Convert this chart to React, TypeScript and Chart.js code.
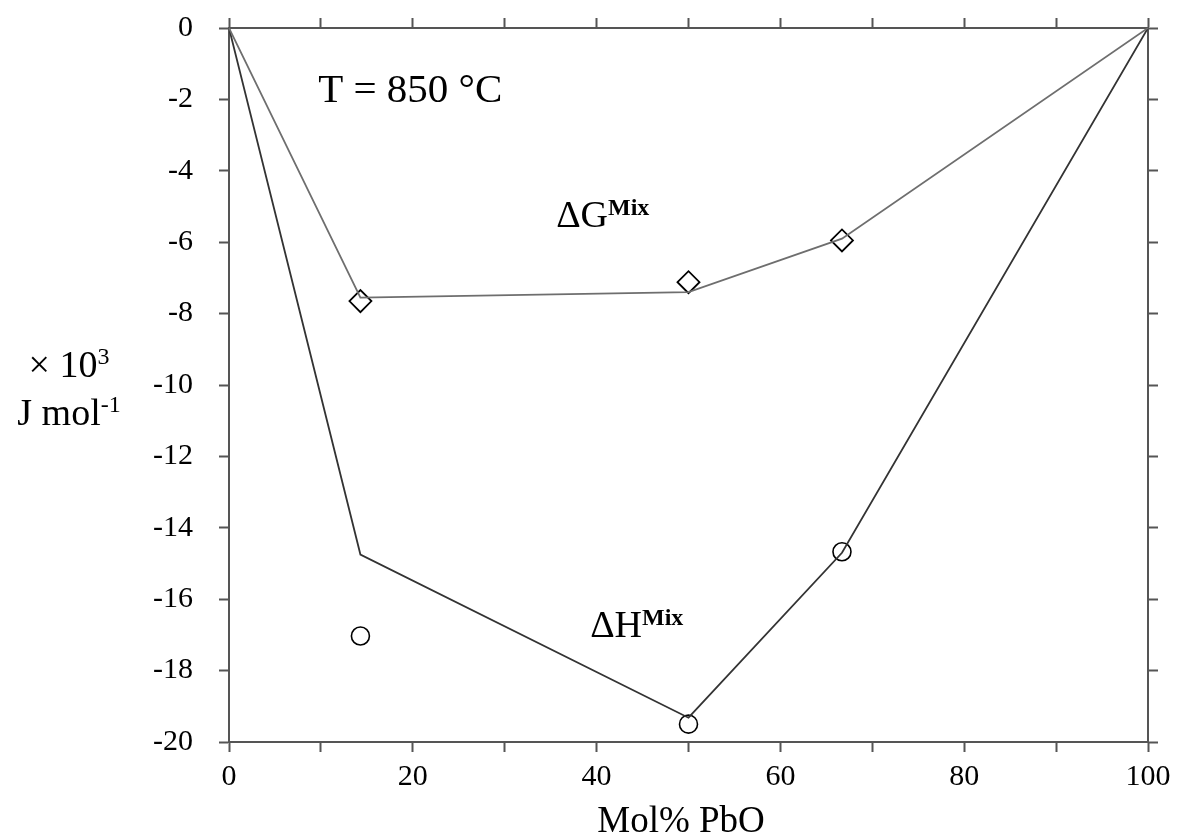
import React, { useEffect, useRef } from 'react';
import { Chart, registerables } from 'chart.js';
Chart.register(...registerables);

// ---- data ----
const molPbO = [0, 14.3, 50, 66.7, 100];
const dGMixLine = [0, -7.55, -7.4, -5.9, 0];
const dHMixLine = [0, -14.75, -19.32, -14.7, 0];
const expMolPbO = [14.3, 50, 66.7];
const dGMixExp = [-7.65, -7.12, -5.95];
const dHMixExp = [-17.03, -19.5, -14.67];
const xTickLabels = [0, 20, 40, 60, 80, 100];
const yTickValues = [0, -2, -4, -6, -8, -10, -12, -14, -16, -18, -20];

const SERIF = "'Liberation Serif', 'Times New Roman', serif";
const AXIS = '#555555';

type Part = { t: string; font: string; dy: number };

function drawParts(ctx: CanvasRenderingContext2D, parts: Part[], x: number, y: number, align: 'left' | 'center') {
  let total = 0;
  for (const p of parts) {
    ctx.font = p.font;
    total += ctx.measureText(p.t).width;
  }
  let cx = align === 'center' ? x - total / 2 : x;
  ctx.textAlign = 'left';
  ctx.textBaseline = 'alphabetic';
  ctx.fillStyle = '#000';
  for (const p of parts) {
    ctx.font = p.font;
    ctx.fillText(p.t, cx, y + p.dy);
    cx += ctx.measureText(p.t).width;
  }
}

const textPlugin = {
  id: 'texts',
  afterDraw(chart: any) {
    const ctx = chart.ctx as CanvasRenderingContext2D;
    const xs = chart.scales.x;
    const ys = chart.scales.y;
    ctx.save();
    // y-axis title
    drawParts(ctx, [
      { t: '\u00D7 10', font: `38px ${SERIF}`, dy: 0 },
      { t: '3', font: `24px ${SERIF}`, dy: -13 },
    ], 69, 377, 'center');
    drawParts(ctx, [
      { t: 'J mol', font: `38px ${SERIF}`, dy: 0 },
      { t: '-1', font: `24px ${SERIF}`, dy: -13 },
    ], 69, 425, 'center');
    // x-axis title
    drawParts(ctx, [{ t: 'Mol% PbO', font: `37px ${SERIF}`, dy: 0 }], 681, 832, 'center');
    // annotations
    drawParts(ctx, [{ t: 'T = 850 \u00B0C', font: `41px ${SERIF}`, dy: 0 }],
      xs.getPixelForValue(9.7), ys.getPixelForValue(-2.08), 'left');
    drawParts(ctx, [
      { t: '\u0394G', font: `38px ${SERIF}`, dy: 0 },
      { t: 'Mix', font: `bold 24px ${SERIF}`, dy: -12 },
    ], xs.getPixelForValue(35.6), ys.getPixelForValue(-5.58), 'left');
    drawParts(ctx, [
      { t: '\u0394H', font: `38px ${SERIF}`, dy: 0 },
      { t: 'Mix', font: `bold 24px ${SERIF}`, dy: -12 },
    ], xs.getPixelForValue(39.3), ys.getPixelForValue(-17.05), 'left');
    ctx.restore();
  },
};

export default function App() {
  const ref = useRef<HTMLCanvasElement>(null);
  useEffect(() => {
    if (!ref.current) return;
    const grid = {
      display: true,
      drawOnChartArea: false,
      drawTicks: true,
      tickLength: 10,
      tickWidth: 2,
      tickColor: AXIS,
      color: AXIS,
    };
    const border = { display: true, color: AXIS, width: 2 };
    const tickFont = { family: SERIF, size: 30 };
    const noPadV = (w: number) => (s: any) => { s.width = w; s.paddingTop = 0; s.paddingBottom = 0; };
    const noPadH = (h: number) => (s: any) => { s.height = h; s.paddingLeft = 0; s.paddingRight = 0; };
    const chart = new Chart(ref.current, {
      type: 'scatter',
      data: {
        datasets: [
          {
            label: 'dG line',
            data: molPbO.map((x, i) => ({ x, y: dGMixLine[i] })),
            showLine: true,
            borderColor: '#6e6e6e',
            borderWidth: 1.8,
            pointRadius: 0,
            fill: false,
          },
          {
            label: 'dH line',
            data: molPbO.map((x, i) => ({ x, y: dHMixLine[i] })),
            showLine: true,
            borderColor: '#333333',
            borderWidth: 1.8,
            pointRadius: 0,
            fill: false,
          },
          {
            label: 'dG exp',
            data: expMolPbO.map((x, i) => ({ x, y: dGMixExp[i] })),
            showLine: false,
            pointStyle: 'rectRot',
            pointRadius: 11,
            pointBorderColor: '#000',
            pointBackgroundColor: 'rgba(255,255,255,0)',
            pointBorderWidth: 1.8,
          },
          {
            label: 'dH exp',
            data: expMolPbO.map((x, i) => ({ x, y: dHMixExp[i] })),
            showLine: false,
            pointStyle: 'circle',
            pointRadius: 9,
            pointBorderColor: '#000',
            pointBackgroundColor: 'rgba(255,255,255,0)',
            pointBorderWidth: 1.6,
          },
        ],
      },
      options: {
        responsive: false,
        animation: false,
        layout: { padding: 0 },
        plugins: { legend: { display: false }, tooltip: { enabled: false } },
        scales: {
          x: {
            type: 'linear',
            position: 'bottom',
            min: 0,
            max: 100,
            grid,
            border,
            ticks: {
              stepSize: 10,
              padding: 7,
              color: '#000',
              font: tickFont,
              maxRotation: 0,
              autoSkip: false,
              callback: (v: any) => (xTickLabels.includes(Number(v)) ? String(v) : ''),
            },
            afterFit: noPadH(98),
          },
          xTop: {
            type: 'linear',
            position: 'top',
            min: 0,
            max: 100,
            grid,
            border,
            ticks: { stepSize: 10, display: true, callback: () => '', font: { size: 1 }, padding: 0 },
            afterFit: noPadH(28),
          },
          y: {
            type: 'linear',
            position: 'left',
            min: -20,
            max: 0,
            grid,
            border,
            ticks: {
              stepSize: 2,
              padding: 26,
              color: '#000',
              font: tickFont,
              autoSkip: false,
              callback: (v: any) => (yTickValues.includes(Number(v)) ? String(v) : ''),
            },
            afterFit: noPadV(229),
          },
          yRight: {
            type: 'linear',
            position: 'right',
            min: -20,
            max: 0,
            grid,
            border,
            ticks: { stepSize: 2, display: true, callback: () => '', font: { size: 1 }, padding: 0 },
            afterFit: noPadV(29),
          },
        },
      },
      plugins: [textPlugin],
    } as any);
    return () => chart.destroy();
  }, []);
  return (
    <div style={{ position: 'absolute', left: 0, top: 0, width: 1177, height: 840, background: '#fff' }}>
      <canvas ref={ref} width={1177} height={840} style={{ display: 'block' }} />
    </div>
  );
}
